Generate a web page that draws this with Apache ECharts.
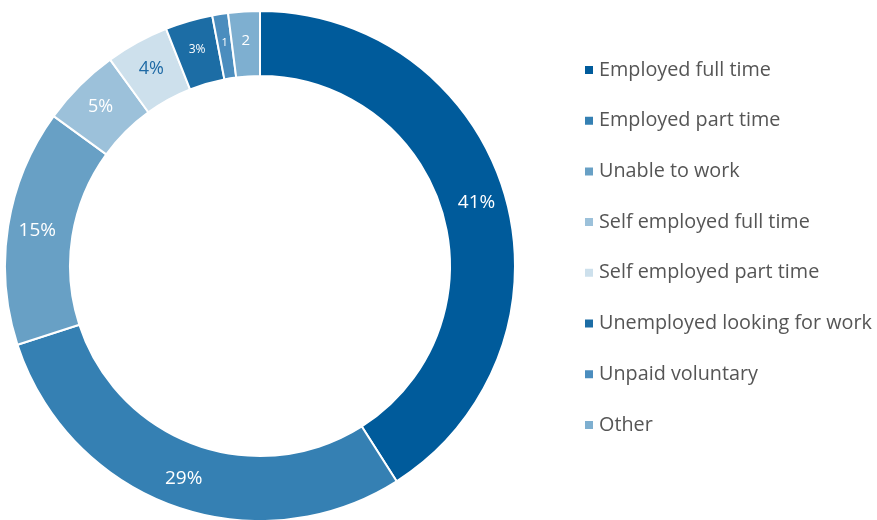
<!DOCTYPE html>
<html>
<head>
<meta charset="utf-8">
<script src="https://cdn.jsdelivr.net/npm/echarts@6/dist/echarts.min.js"></script>
<style>html,body{margin:0;padding:0;background:#fff}#c{width:877px;height:520px}</style>
</head>
<body>
<div id="c"></div>
<script>
const categories = ["Employed full time","Employed part time","Unable to work","Self employed full time","Self employed part time","Unemployed looking for work","Unpaid voluntary","Other"];
const values = [41, 29, 15, 5, 4, 3, 1, 2];
const labelTexts = ["41%","29%","15%","5%","4%","3%","1","2"];
const colors = ["#005b9b","#3580b3","#68a0c5","#9cc1da","#cde0ec","#1c6da5","#4b8dbe","#7eafd0"];
const labelColors = ["#fff","#fff","#fff","#fff","#1f6aa5","#fff","#fff","#fff"];
const labelSizes = [19,19,19,18,18,12,11,15];

const chart = echarts.init(document.getElementById('c'), null, {renderer:'canvas'});
chart.setOption({
  animation:false,
  legend:{
    orient:'vertical', left:578, top:55, itemGap:30.7, itemWidth:10, itemHeight:10,
    icon:'rect',
    textStyle:{fontFamily:'Open Sans', fontSize:19.8, lineHeight:20, color:'#555'},
    data:categories
  },
  series:[{
    type:'pie', center:[260,266], radius:[190,255], startAngle:90, clockwise:true,
    avoidLabelOverlap:false,
    itemStyle:{borderColor:'#fff', borderWidth:2},
    label:{show:true, position:'inside', fontFamily:'Open Sans'},
    labelLine:{show:false},
    emphasis:{disabled:true},
    data: categories.map((n,i)=>({
      name:n, value:values[i],
      itemStyle:{color:colors[i]},
      label:{formatter:labelTexts[i], color:labelColors[i], fontSize:labelSizes[i]}
    }))
  }]
});
</script>
</body>
</html>
